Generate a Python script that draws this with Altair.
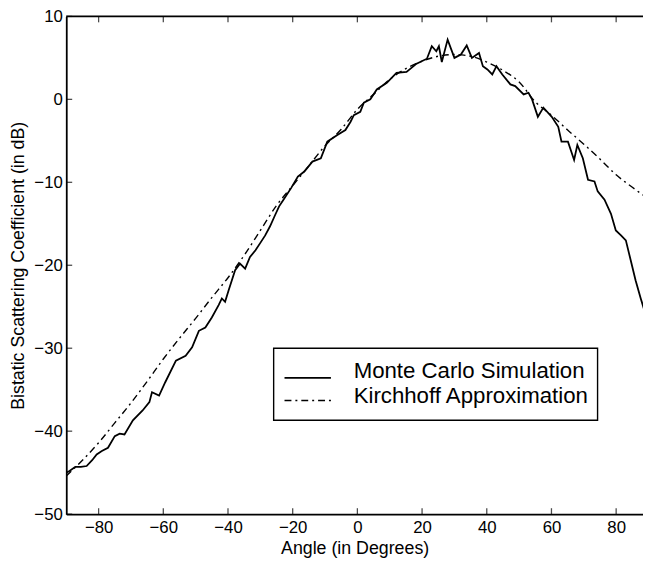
import altair as alt
import pandas as pd

# ---- data ----
mc_angle = [-90.0, -89.0, -87.2, -85.5, -83.7, -82.0, -80.6, -79.0, -77.1, -75.0,
            -73.5, -72.0, -69.4, -66.4, -64.3, -63.5, -61.3, -59.4, -56.1, -53.1,
            -51.1, -49.0, -47.0, -45.0, -42.9, -41.9, -40.9, -39.8, -37.8, -36.3,
            -34.7, -33.2, -31.5, -30.0, -28.5, -27.0, -25.5, -24.2, -23.0, -20.5,
            -18.4, -16.4, -13.9, -11.3, -9.3, -6.2, -3.7, -2.1, -1.1, 0.9,
            2.0, 4.0, 6.0, 9.1, 12.1, 15.2, 18.3, 21.5, 23.0, 24.4,
            25.2, 26.1, 27.9, 30.0, 32.0, 33.8, 35.4, 37.6, 38.8, 40.2,
            41.7, 43.0, 44.8, 47.3, 48.8, 51.4, 52.9, 54.0, 55.8, 57.5,
            60.1, 62.1, 63.1, 65.1, 67.0, 68.0, 69.7, 71.3, 73.3, 74.3,
            76.4, 78.4, 79.9, 81.5, 83.0, 84.5, 86.0, 87.6, 89.0, 90.0]
mc_db = [-45.0, -44.8, -44.3, -44.3, -44.2, -43.5, -42.8, -42.4, -42.0, -40.6,
         -40.3, -40.4, -38.7, -37.5, -36.5, -35.3, -35.7, -34.1, -31.5, -30.9,
         -29.9, -27.9, -27.5, -26.3, -24.8, -24.0, -24.4, -23.0, -20.6, -19.8,
         -20.4, -19.0, -18.2, -17.3, -16.4, -15.3, -14.0, -12.9, -12.2, -10.7,
         -9.3, -8.7, -7.5, -7.1, -5.1, -4.3, -3.7, -2.7, -1.9, -1.5,
         -0.4, 0.0, 1.2, 2.0, 3.2, 3.3, 4.3, 4.9, 6.4, 5.8,
         6.4, 4.5, 7.2, 5.0, 5.4, 6.5, 5.0, 5.6, 4.0, 3.6,
         3.0, 4.0, 3.0, 1.8, 1.6, 0.6, 0.8, 0.0, -2.1, -1.0,
         -2.1, -3.3, -5.1, -5.1, -7.3, -5.5, -7.1, -9.7, -9.9, -11.1,
         -12.1, -13.8, -15.8, -16.4, -17.0, -19.4, -21.8, -24.0, -25.8, -27.0]

kh_angle = [-90, -85, -80, -75, -70, -65, -60, -55, -50, -45, -40, -35, -30, -25,
            -20, -15, -10, -5, 0, 5, 10, 15, 20, 25, 30, 35, 40, 45, 50, 55,
            60, 65, 70, 75, 80, 85, 90]
kh_db = [-45.4, -43.5, -41.4, -39.0, -36.6, -34.0, -31.3, -28.8, -26.4, -23.9,
         -21.5, -18.8, -15.8, -12.8, -10.4, -8.0, -5.6, -3.6, -1.2, 0.6,
         2.4, 3.7, 4.6, 5.2, 5.4, 5.2, 4.5, 3.5, 2.1, -0.3,
         -1.9, -3.7, -5.4, -7.2, -9.1, -10.6, -12.0]

x_ticks = [-80, -60, -40, -20, 0, 20, 40, 60, 80]
y_ticks = [-50, -40, -30, -20, -10, 0, 10]
legend_labels = ["Monte Carlo Simulation", "Kirchhoff Approximation"]

# ---- layout ----
W, H = 584, 504
FONT = "Liberation Sans"

mc_df = pd.DataFrame({"angle": mc_angle, "db": mc_db})
kh_df = pd.DataFrame({"angle": kh_angle, "db": kh_db})
xt_df = pd.DataFrame({"angle": x_ticks})
yt_df = pd.DataFrame({"db": y_ticks})
one = pd.DataFrame({"a": [0]})

xs = alt.Scale(domain=[-90, 88.3], nice=False, zero=False)
ys = alt.Scale(domain=[-50, 10], nice=False, zero=False)

X_TITLE = "Angle (in Degrees)"
Y_TITLE = "Bistatic Scattering Coefficient (in dB)"
x_axis = alt.Axis(values=x_ticks, format="d", ticks=False,
                  grid=False, domainColor="black", domainWidth=1.8, labelPadding=6,
                  titlePadding=4)
y_axis = alt.Axis(values=y_ticks, format="d",
                  ticks=False, grid=False, domainColor="black", domainWidth=1.8,
                  labelPadding=4, titlePadding=6)


def xenc():
    return alt.X("angle:Q", scale=xs, axis=x_axis, title=X_TITLE)


def yenc():
    return alt.Y("db:Q", scale=ys, axis=y_axis, title=Y_TITLE)


mc = alt.Chart(mc_df).mark_line(color="black", strokeWidth=1.8, clip=True).encode(
    x=xenc(), y=yenc(), order="angle:Q",
)

kh = alt.Chart(kh_df).mark_line(color="black", strokeWidth=1.4, strokeDash=[7, 4, 2, 4],
                                clip=True, interpolate="monotone").encode(
    x=xenc(), y=yenc(), order="angle:Q",
)

# inward ticks (MATLAB style)
ytick = alt.Chart(yt_df).mark_tick(orient="horizontal", color="black", size=6,
                                   thickness=1.3).encode(
    y=yenc(), x=alt.value(3))
xtick_b = alt.Chart(xt_df).mark_tick(orient="vertical", color="black", size=6,
                                     thickness=1.3).encode(
    x=xenc(), y=alt.value(H - 3))
xtick_t = alt.Chart(xt_df).mark_tick(orient="vertical", color="black", size=6,
                                     thickness=1.3).encode(
    x=xenc(), y=alt.value(3))
top_line = alt.Chart(one).mark_rule(color="black", strokeWidth=1.8).encode(
    x=alt.value(0), x2=alt.value(W), y=alt.value(0))

# legend box
LX0, LX1, LY0, LY1 = 210, 538, 336, 409
box = alt.Chart(one).mark_rect(fill="white", stroke="black", strokeWidth=1.4).encode(
    x=alt.value(LX0), x2=alt.value(LX1), y=alt.value(LY0), y2=alt.value(LY1))
leg_solid = alt.Chart(one).mark_rule(color="black", strokeWidth=1.6).encode(
    x=alt.value(221), x2=alt.value(268), y=alt.value(366))
leg_dash = alt.Chart(one).mark_rule(color="black", strokeWidth=1.4,
                                    strokeDash=[7, 4, 2, 4]).encode(
    x=alt.value(221), x2=alt.value(268), y=alt.value(389))
leg_t1 = alt.Chart(pd.DataFrame({"label": [legend_labels[0]]})).mark_text(
    align="left", baseline="alphabetic", font=FONT, fontSize=22.5, color="black").encode(
    x=alt.value(291), y=alt.value(366), text="label:N")
leg_t2 = alt.Chart(pd.DataFrame({"label": [legend_labels[1]]})).mark_text(
    align="left", baseline="alphabetic", font=FONT, fontSize=22.5, color="black").encode(
    x=alt.value(291), y=alt.value(391), text="label:N")

chart = alt.layer(
    mc, kh, ytick, xtick_b, xtick_t, top_line, box, leg_solid, leg_dash, leg_t1, leg_t2
).properties(
    width=W, height=H,
    autosize=alt.AutoSizeParams(type="none"),
    padding={"left": 59, "top": 5, "right": 0, "bottom": 48},
    background="white",
).configure_view(stroke=None).configure_axis(
    labelFont=FONT, labelFontSize=17, labelColor="black",
    titleFont=FONT, titleFontSize=18, titleFontWeight="normal", titleColor="black",
)

chart.save("out.html", embed_options={"renderer": "svg", "actions": False})
